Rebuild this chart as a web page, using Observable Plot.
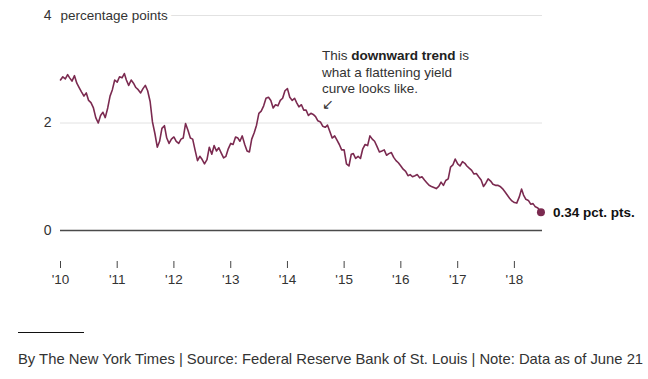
<!DOCTYPE html>
<html>
<head>
<meta charset="utf-8">
<script src="https://cdn.jsdelivr.net/npm/d3@7"></script>
<script src="https://cdn.jsdelivr.net/npm/@observablehq/plot@0.6"></script>
<style>
  html, body { margin: 0; padding: 0; background: #fff; }
  #wrap { position: relative; width: 648px; height: 379px; font-family: "Liberation Sans", Arial, sans-serif; }
  #chart { position: absolute; left: 0; top: 0; }
  #rule { position: absolute; left: 18px; top: 332px; width: 66px; border-top: 1px solid #111; }
  #caption { position: absolute; left: 18px; top: 351px; font-size: 14.8px; color: #333; white-space: nowrap; }
</style>
</head>
<body>
<div id="wrap">
  <div id="chart"></div>
  <div id="rule"></div>
  <div id="caption">By The New York Times | Source: Federal Reserve Bank of St. Louis | Note: Data as of June 21</div>
</div>
<script>
// Spread between 10-year and 2-year Treasury yields (percentage points),
// read semi-monthly (1st and 16th of each month) from the reference, last point June 21, 2018.
const spread2010 = [2.80,2.86,2.82,2.90,2.84,2.78,2.88,2.74,2.66,2.58,2.50,2.56,2.42,2.38,2.28,2.10,2.00,2.14,2.20,2.10,2.28,2.50,2.62,2.80];
const spread2011 = [2.76,2.86,2.84,2.92,2.80,2.70,2.80,2.74,2.66,2.62,2.56,2.64,2.70,2.60,2.40,2.02,1.80,1.55,1.66,1.90,1.95,1.72,1.62,1.70];
const spread2012 = [1.74,1.66,1.62,1.70,1.72,1.99,1.86,1.72,1.70,1.50,1.30,1.38,1.32,1.24,1.32,1.55,1.42,1.58,1.48,1.54,1.44,1.35,1.38,1.52];
const spread2013 = [1.62,1.60,1.74,1.72,1.66,1.76,1.60,1.48,1.46,1.70,1.82,1.96,2.18,2.22,2.32,2.46,2.48,2.42,2.28,2.34,2.32,2.42,2.46,2.60];
const spread2014 = [2.64,2.48,2.42,2.46,2.38,2.30,2.34,2.24,2.24,2.14,2.18,2.16,2.12,2.04,2.02,1.94,1.92,1.96,1.84,1.72,1.76,1.68,1.60,1.50];
const spread2015 = [1.50,1.24,1.20,1.42,1.43,1.34,1.38,1.34,1.52,1.60,1.58,1.76,1.70,1.66,1.56,1.46,1.48,1.50,1.40,1.43,1.45,1.36,1.30,1.26];
const spread2016 = [1.20,1.14,1.10,1.02,1.04,1.00,1.02,1.04,0.98,1.00,0.94,0.89,0.84,0.82,0.80,0.78,0.82,0.90,0.84,0.93,0.96,1.18,1.22,1.33];
const spread2017 = [1.24,1.20,1.28,1.25,1.20,1.16,1.12,1.05,1.06,1.00,0.94,0.82,0.88,0.96,0.92,0.86,0.84,0.84,0.82,0.78,0.72,0.66,0.60,0.55];
const spread2018 = [0.52,0.51,0.62,0.77,0.66,0.58,0.56,0.49,0.50,0.44,0.42];
const lastDate = "2018-06-21";
const lastValue = 0.34;

const yTicks = [0, 2, 4];
const xTickYears = [2010, 2011, 2012, 2013, 2014, 2015, 2016, 2017, 2018];
const unitLabel = "percentage points";
const endLabel = "0.34 pct. pts.";
const noteLines = ["This downward trend is", "what a flattening yield", "curve looks like.", "↙"];
const noteBold = "downward trend";
const noteAnchor = {date: "2014-08-12", value: 3.38};

const series = [spread2010, spread2011, spread2012, spread2013, spread2014, spread2015, spread2016, spread2017, spread2018];
const data = [];
series.forEach((vals, yi) => {
  vals.forEach((v, i) => {
    data.push({date: new Date(Date.UTC(2010 + yi, Math.floor(i / 2), i % 2 ? 16 : 1)), value: v});
  });
});
const last = {date: new Date(lastDate + "T00:00:00Z"), value: lastValue};
data.push(last);

const lineColor = "#7b2a50";
const font = "'Liberation Sans', Arial, sans-serif";

const chart = Plot.plot({
  width: 648,
  height: 300,
  marginLeft: 60,
  marginRight: 106,
  marginTop: 15,
  marginBottom: 39,
  style: {fontFamily: font, color: "#333", background: "#fff"},
  x: {type: "utc", domain: [new Date(Date.UTC(2010, 0, 1)), new Date(Date.UTC(2018, 6, 1))]},
  y: {domain: [0, 4], range: [230, 15]},
  marks: [
    Plot.ruleY(yTicks.filter(d => d !== 0), {stroke: "#e2e2e2", strokeWidth: 1}),
    Plot.ruleY([0], {stroke: "#4a4a4a", strokeWidth: 1.5}),
    Plot.axisY({ticks: yTicks, tickFormat: d => String(d), tickSize: 0, tickPadding: 9, fontSize: 14, label: null, fill: "#333"}),
    Plot.text([unitLabel], {x: () => new Date(Date.UTC(2010, 0, 1)), y: () => 4, text: d => d, textAnchor: "start",
      fontSize: 13.5, fill: "#333", stroke: "white", strokeWidth: 8}),
    Plot.axisX({ticks: xTickYears.map(y => new Date(Date.UTC(y, 0, 1))), tickFormat: d => "'" + String(d.getUTCFullYear()).slice(2),
      tickSize: 7, tickPadding: 6, fontSize: 13.5, label: null, stroke: "#444", fill: "#333"}),
    Plot.line(data, {x: "date", y: "value", stroke: lineColor, strokeWidth: 1.6}),
    Plot.dot([last], {x: "date", y: "value", r: 4, fill: lineColor}),
    Plot.text([last], {x: "date", y: "value", text: () => endLabel, dx: 12, textAnchor: "start",
      fontWeight: "bold", fontSize: 13.5, fill: "#111"}),
    Plot.text([noteAnchor], {x: d => new Date(d.date + "T00:00:00Z"), y: "value", text: () => noteLines.join("\n"),
      textAnchor: "start", lineAnchor: "top", lineHeight: 1.2, fontSize: 13.5, fill: "#333", className: "note"})
  ]
});
document.getElementById("chart").appendChild(chart);

// Bold part of the first note line
const noteText = chart.querySelector(".note text");
if (noteText) {
  const first = noteText.querySelector("tspan");
  if (first) {
    const s = first.textContent;
    const k = s.indexOf(noteBold);
    if (k >= 0) {
      first.textContent = "";
      const ns = "http://www.w3.org/2000/svg";
      first.appendChild(document.createTextNode(s.slice(0, k)));
      const b = document.createElementNS(ns, "tspan");
      b.setAttribute("font-weight", "bold");
      b.setAttribute("fill", "#222");
      b.textContent = noteBold;
      first.appendChild(b);
      first.appendChild(document.createTextNode(s.slice(k + noteBold.length)));
    }
  }
}
</script>
</body>
</html>
